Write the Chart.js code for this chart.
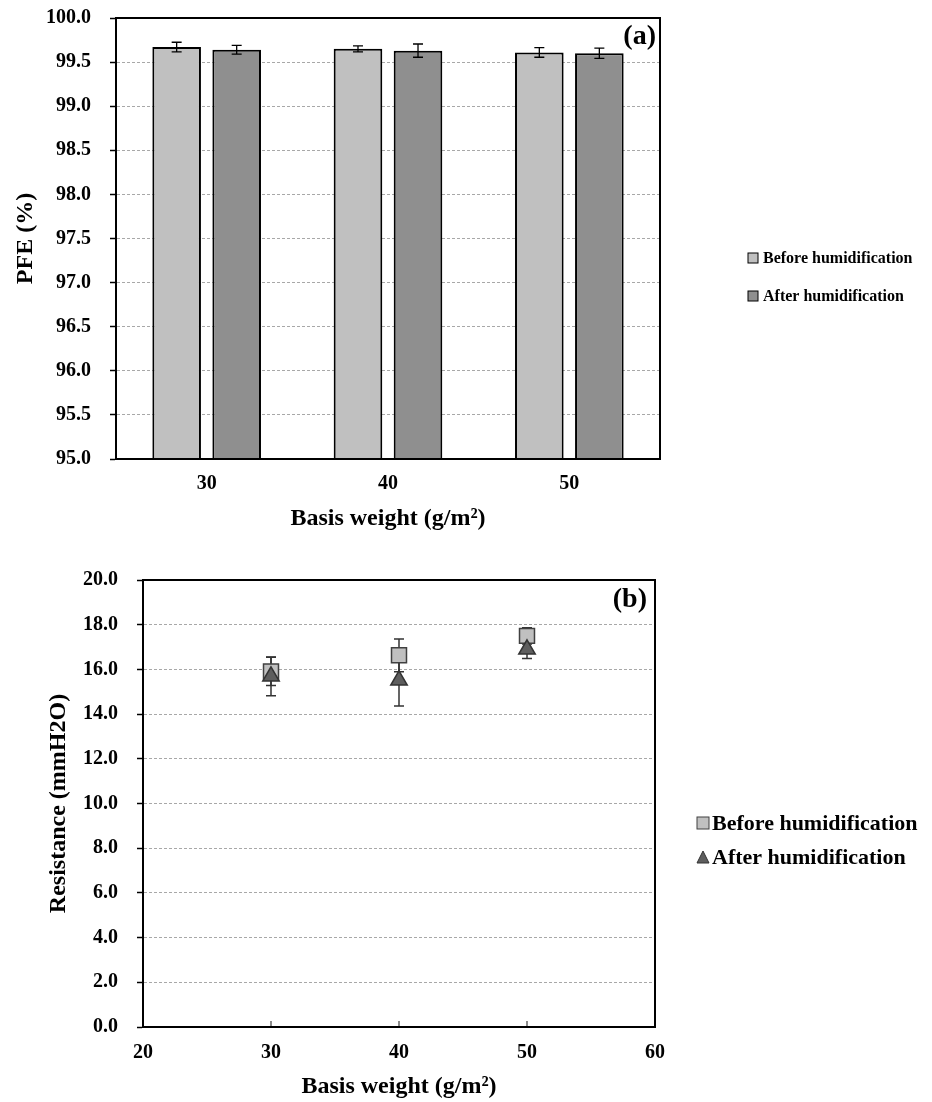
<!DOCTYPE html>
<html><head><meta charset="utf-8">
<script src="https://cdn.jsdelivr.net/npm/chart.js@4.4.0/dist/chart.umd.min.js"></script>
<style>
html,body{margin:0;padding:0;background:#fff;}
#wa{position:absolute;left:0;top:0;width:932px;height:540px;}
#wb{position:absolute;left:0;top:540px;width:932px;height:562px;}
</style></head><body>
<div id="wa"><canvas id="ca"></canvas></div>
<div id="wb"><canvas id="cb"></canvas></div>
<script>
// ---- data: chart (a) PFE ----
const categories = ['30', '40', '50'];
const pfeBefore = [99.67, 99.65, 99.61];
const pfeBeforeErr = [0.055, 0.033, 0.055];
const pfeAfter = [99.64, 99.63, 99.60];
const pfeAfterErr = [0.05, 0.075, 0.058];
const pfeTickValues = [95.0, 95.5, 96.0, 96.5, 97.0, 97.5, 98.0, 98.5, 99.0, 99.5, 100.0];

// ---- data: chart (b) resistance ----
const basisWeight = [30, 40, 50];
const resBefore = [15.91, 16.63, 17.50];
const resBeforeErr = [0.63, 0.73, 0.36];
const resAfter = [15.69, 15.51, 16.90];
const resAfterErr = [0.87, 1.15, 0.41];
const resTickValues = [0, 2, 4, 6, 8, 10, 12, 14, 16, 18, 20];
const basisTickValues = [20, 30, 40, 50, 60];

const seriesNames = ['Before humidification', 'After humidification'];
const FONT = "'Liberation Serif', 'Times New Roman', serif";

const errorBars = {
  id: 'errorBars',
  draw(chart) {
    const o = chart.options.plugins.errorBars;
    const ctx = chart.ctx, ys = chart.scales.y;
    ctx.save();
    ctx.strokeStyle = o.color; ctx.lineWidth = o.width;
    chart.data.datasets.forEach((ds, di) => {
      const meta = chart.getDatasetMeta(di);
      meta.data.forEach((el, i) => {
        const v = ds.data[i]; const val = typeof v === 'object' ? v.y : v;
        const e = ds.errors[i];
        const yt = ys.getPixelForValue(val + e), yb = ys.getPixelForValue(val - e);
        const x = el.x, c = o.cap / 2;
        ctx.beginPath();
        ctx.moveTo(x, yt); ctx.lineTo(x, yb);
        ctx.moveTo(x - c, yt); ctx.lineTo(x + c, yt);
        ctx.moveTo(x - c, yb); ctx.lineTo(x + c, yb);
        ctx.stroke();
      });
    });
    ctx.restore();
  },
  beforeDatasetsDraw(chart) { if (chart.options.plugins.errorBars.behind) this.draw(chart); },
  afterDatasetsDraw(chart) { if (!chart.options.plugins.errorBars.behind) this.draw(chart); }
};

const frame = {
  id: 'frame',
  afterDraw(chart) {
    const o = chart.options.plugins.frame;
    const ctx = chart.ctx, a = chart.chartArea;
    ctx.save();
    if (o.innerTicks) {
      ctx.strokeStyle = '#666'; ctx.lineWidth = 1.5;
      chart.scales.x.ticks.forEach(t => {
        const x = chart.scales.x.getPixelForValue(t.value);
        if (x > a.left + 1 && x < a.right - 1) {
          ctx.beginPath(); ctx.moveTo(x, a.bottom); ctx.lineTo(x, a.bottom - 6); ctx.stroke();
        }
      });
    }
    ctx.strokeStyle = '#000'; ctx.lineWidth = 2;
    ctx.strokeRect(a.left, a.top, a.right - a.left, a.bottom - a.top);
    ctx.fillStyle = '#000';
    ctx.font = 'bold 28px ' + FONT;
    ctx.textAlign = 'right'; ctx.textBaseline = 'middle';
    ctx.fillText(o.label, a.right - o.dx, a.top + o.dy);
    const L = o.legend;
    ctx.font = 'bold ' + L.size + 'px ' + FONT;
    ctx.textAlign = 'left';
    chart.data.datasets.forEach((ds, i) => {
      const y = L.y[i];
      const x = L.x;
      ctx.fillStyle = ds.backgroundColor;
      ctx.strokeStyle = ds.borderColor; ctx.lineWidth = 1;
      const s = L.box;
      if (ds.pointStyle === 'triangle') {
        ctx.beginPath();
        ctx.moveTo(x + s / 2, y - s / 2);
        ctx.lineTo(x + s, y + s / 2);
        ctx.lineTo(x, y + s / 2);
        ctx.closePath(); ctx.fill(); ctx.stroke();
      } else {
        ctx.fillRect(x, y - s / 2, s, s);
        ctx.strokeRect(x, y - s / 2, s, s);
      }
      ctx.fillStyle = '#000';
      ctx.fillText(ds.label, x + s + L.gap, y + 1);
    });
    ctx.restore();
  }
};

const tickFont = { family: FONT, size: 20, weight: 'bold' };
const titleFont = { family: FONT, size: 24, weight: 'bold' };

new Chart(document.getElementById('ca'), {
  type: 'bar',
  data: {
    labels: categories,
    datasets: [
      { label: seriesNames[0], data: pfeBefore, errors: pfeBeforeErr, backgroundColor: '#c0c0c0', borderColor: '#000', borderWidth: 2 },
      { label: seriesNames[1], data: pfeAfter, errors: pfeAfterErr, backgroundColor: '#8f8f8f', borderColor: '#000', borderWidth: 2 }
    ]
  },
  plugins: [errorBars, frame],
  options: {
    animation: false, responsive: true, maintainAspectRatio: false,
    layout: { padding: { left: 0, top: 18, right: 272, bottom: 0 } },
    datasets: { bar: { categoryPercentage: 0.662, barPercentage: 0.81 } },
    plugins: {
      legend: { display: false }, tooltip: { enabled: false },
      errorBars: { color: '#000', width: 1.3, cap: 10, behind: false },
      frame: { label: '(a)', dx: 4, dy: 19, innerTicks: false,
        legend: { x: 748, y: [258, 296], size: 16, box: 10, gap: 5 } }
    },
    scales: {
      x: {
        grid: { display: true, drawOnChartArea: false, drawTicks: false },
        border: { display: true, color: '#000', width: 2 },
        ticks: { font: tickFont, color: '#000', padding: 13 },
        title: { display: true, text: 'Basis weight (g/m²)', font: titleFont, color: '#000', padding: { top: 0, bottom: 7 } },
        afterFit: s => { s.height = 540 - 459; }
      },
      y: {
        min: 95, max: 100,
        afterBuildTicks: s => { s.ticks = pfeTickValues.map(v => ({ value: v })); },
        grid: { color: '#a8a8a8', lineWidth: 1, tickColor: '#000', tickLength: 6, tickWidth: 1.5, tickBorderDash: [] },
        border: { display: true, color: '#000', width: 2, dash: [3, 2] },
        ticks: { font: tickFont, color: '#000', padding: 19, callback: v => Number(v).toFixed(1) },
        title: { display: true, text: 'PFE (%)', font: titleFont, color: '#000', padding: { top: 11, bottom: 0 } },
        afterFit: s => { s.width = 116; s.paddingTop = 0; s.paddingBottom = 0; }
      }
    }
  }
});

new Chart(document.getElementById('cb'), {
  type: 'scatter',
  data: {
    datasets: [
      { label: seriesNames[0], data: basisWeight.map((x, i) => ({ x: x, y: resBefore[i] })), errors: resBeforeErr,
        pointStyle: 'rect', pointRadius: 10.6, backgroundColor: '#c0c0c0', borderColor: '#404040', borderWidth: 1.5, order: 2 },
      { label: seriesNames[1], data: basisWeight.map((x, i) => ({ x: x, y: resAfter[i] })), errors: resAfterErr,
        pointStyle: 'triangle', pointRadius: 9.5, backgroundColor: '#5e5e5e', borderColor: '#333', borderWidth: 1.5, order: 1 }
    ]
  },
  plugins: [errorBars, frame],
  options: {
    animation: false, responsive: true, maintainAspectRatio: false,
    layout: { padding: { left: 0, top: 40, right: 277, bottom: 0 } },
    plugins: {
      legend: { display: false }, tooltip: { enabled: false },
      errorBars: { color: '#333', width: 1.5, cap: 10, behind: true },
      frame: { label: '(b)', dx: 8, dy: 20, innerTicks: true,
        legend: { x: 697, y: [283, 317], size: 22, box: 12, gap: 3 } }
    },
    scales: {
      x: {
        type: 'linear', min: 20, max: 60,
        afterBuildTicks: s => { s.ticks = basisTickValues.map(v => ({ value: v })); },
        grid: { display: true, drawOnChartArea: false, drawTicks: false },
        border: { display: true, color: '#000', width: 2 },
        ticks: { font: tickFont, color: '#000', padding: 14 },
        title: { display: true, text: 'Basis weight (g/m²)', font: titleFont, color: '#000', padding: { top: 0, bottom: 1 } },
        afterFit: s => { s.height = 562 - 487; }
      },
      y: {
        min: 0, max: 20,
        afterBuildTicks: s => { s.ticks = resTickValues.map(v => ({ value: v })); },
        grid: { color: '#a8a8a8', lineWidth: 1, tickColor: '#000', tickLength: 6, tickWidth: 1.5, tickBorderDash: [] },
        border: { display: true, color: '#000', width: 2, dash: [3, 2] },
        ticks: { font: tickFont, color: '#000', padding: 19, callback: v => Number(v).toFixed(1) },
        title: { display: true, text: 'Resistance (mmH2O)', font: titleFont, color: '#000', padding: { top: 44, bottom: 0 } },
        afterFit: s => { s.width = 143; s.paddingTop = 0; s.paddingBottom = 0; }
      }
    }
  }
});
</script>
</body></html>
